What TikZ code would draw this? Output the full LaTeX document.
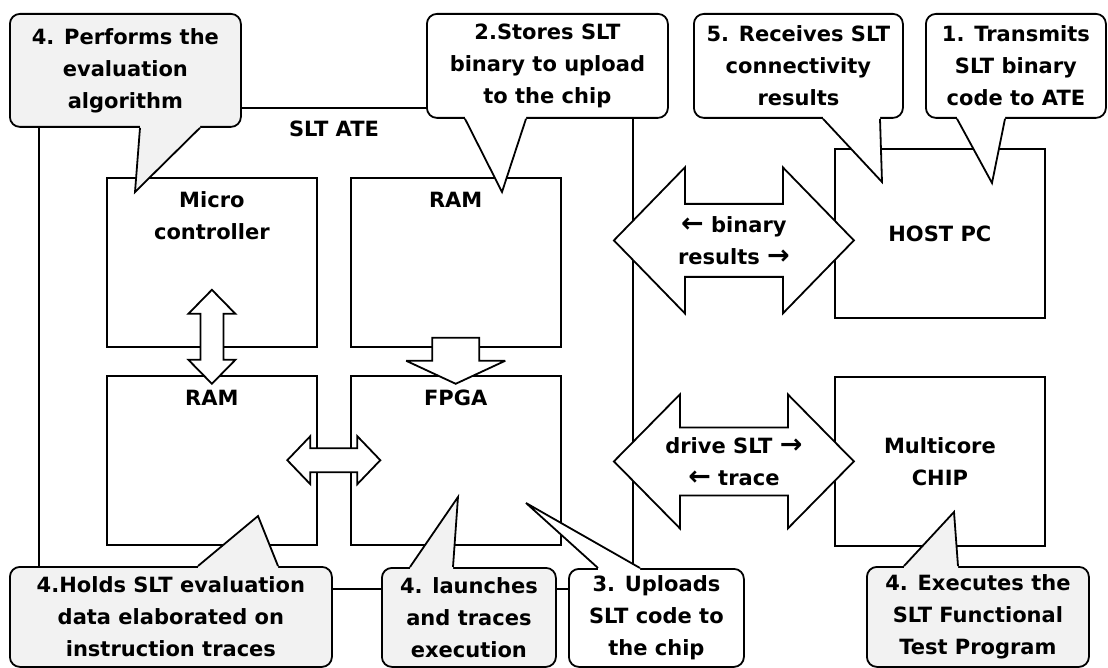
\documentclass[tikz,border=0pt]{standalone}
\usepackage{fontspec}
\setmainfont{DejaVu Sans}
\usetikzlibrary{positioning,calc}
\definecolor{notegray}{RGB}{242,242,242}

% pointer of a callout: corner, base x from, base x to, tip, inward dy, fill
\newcommand{\notetail}[6]{%
  \fill[#6] ($(#1)+(#2,#5)$) -- ($(#1)+(#2,0)$) -- (#4) -- ($(#1)+(#3,0)$) -- ($(#1)+(#3,#5)$) -- cycle;
  \draw ($(#1)+(#2,0)$) -- (#4) -- ($(#1)+(#3,0)$);}
% two-way block arrow: centre, rotation, half length, head length, half head, half shaft
\newcommand{\twoway}[6]{%
  \draw[blockarrow,shift={(#1)},rotate=#2] (-#3,0) -- ({-#3+#4},-#5) -- ({-#3+#4},-#6)
    -- ({#3-#4},-#6) -- ({#3-#4},-#5) -- (#3,0) -- ({#3-#4},#5) -- ({#3-#4},#6)
    -- ({-#3+#4},#6) -- ({-#3+#4},#5) -- cycle;}
\newcommand{\toleft}{{\fontsize{27}{32}\selectfont ←}}
\newcommand{\toright}{{\fontsize{27}{32}\selectfont →}}

\begin{document}
\begin{tikzpicture}[x=1pt,y=-1pt,line width=1.8pt,miter limit=4,
    font=\fontsize{21}{32}\selectfont\bfseries,
    box/.style={draw,fill=white,minimum width=210pt,minimum height=169pt,inner sep=0pt},
    lbl/.style={align=center,inner sep=0pt},
    blockarrow/.style={draw,fill=white},
    note/.style={draw,rounded corners=10pt,align=center,inner sep=0pt,anchor=north west},
    graynote/.style={note,fill=notegray},
    whitenote/.style={note,fill=white}]
  \useasboundingbox (0,0) rectangle (1108,668);

  % test equipment frame
  \node[draw,minimum width=594pt,minimum height=481pt,inner sep=0pt,anchor=north west] (ate) at (38,107) {};
  \node[lbl] (atetxt) at (334,129) {SLT ATE};

  % blocks
  \node[box,anchor=north west] (mcu) at (106,177) {};
  \node[box,right=32pt of mcu] (ramtop) {};
  \node[box,below=27pt of mcu] (ramlow) {};
  \node[box,right=32pt of ramlow] (fpga) {};
  \node[box,anchor=north west] (host) at (834,148) {};
  \node[box,anchor=north west] (chip) at (834,376) {};

  % block arrows
  \coordinate (mcuram) at ([yshift=11pt]mcu.south);
  \coordinate (ramlink) at ($(ramlow.east)!.5!(fpga.west)$);
  \coordinate (ramfpga) at ([yshift=-36pt]ramtop.south);
  \coordinate (hostlink) at ([yshift=-7pt]$(ate.east |- host.center)!.5!(host.west)$);
  \coordinate (chiplink) at ($(ate.east |- chip.center)!.5!(chip.west)$);
  \twoway{mcuram}{90}{47}{24}{23.5}{11.5}
  \twoway{ramlink}{0}{46.5}{23}{24}{12}
  \draw[blockarrow,shift={(ramfpga)}] (-23.5,-46) -- (23.5,-46) -- (23.5,-23) -- (49.5,-23)
    -- (0,0) -- (-49.5,-23) -- (-23.5,-23) -- cycle;
  \twoway{hostlink}{0}{120}{71}{73}{36.5}
  \twoway{chiplink}{0}{120}{66}{67}{34}

  % block texts
  \node[lbl,below=14pt of mcu.north] (mcutxt) {Micro\\controller};
  \node[lbl,below=14pt of ramtop.north] (ramtoptxt) {RAM};
  \node[lbl,below=14pt of ramlow.north] (ramlowtxt) {RAM};
  \node[lbl,below=14pt of fpga.north] (fpgatxt) {FPGA};
  \node[lbl] (hosttxt) at (host.center) {HOST PC};
  \node[lbl] (chiptxt) at (chip.center) {Multicore\\CHIP};
  \node[lbl] (hostlinktxt) at (hostlink) {\toleft{} binary\\results \toright};
  \node[lbl] (chiplinktxt) at (chiplink) {drive SLT \toright\\\toleft{} trace};

  % callouts, top row
  \node[graynote,minimum width=231pt,minimum height=113pt] (perf) at (9,13) {4. Performs the\\evaluation\\algorithm};
  \coordinate (perftip) at (135,192);
  \notetail{perf.south west}{131}{191}{perftip}{-3}{notegray}
  \node[whitenote,minimum width=241pt,minimum height=104pt] (stores) at (426,13) {2.Stores SLT\\binary to upload\\to the chip};
  \coordinate (storestip) at (502,192);
  \notetail{stores.south west}{39}{100}{storestip}{-3}{white}
  \node[whitenote,minimum width=209pt,minimum height=104pt] (receives) at (693,13) {5. Receives SLT\\connectivity\\results};
  \coordinate (receivestip) at (882,182);
  \notetail{receives.south west}{130}{187}{receivestip}{-3}{white}
  \node[whitenote,minimum width=180pt,minimum height=104pt] (transmits) at (925,13) {1. Transmits\\SLT binary\\code to ATE};
  \coordinate (transmitstip) at (992,183);
  \notetail{transmits.south west}{32}{80}{transmitstip}{-3}{white}

  % callouts, bottom row
  \node[graynote,minimum width=322pt,minimum height=100pt] (holds) at (9,566) {4.Holds SLT evaluation\\data elaborated on\\instruction traces};
  \coordinate (holdstip) at (258,516);
  \notetail{holds.north west}{189}{269}{holdstip}{3}{notegray}
  \node[graynote,minimum width=174pt,minimum height=99pt] (launches) at (381,567) {4. launches\\and traces\\execution};
  \coordinate (launchestip) at (458,497);
  \notetail{launches.north west}{29}{72}{launchestip}{3}{notegray}
  \node[whitenote,minimum width=175pt,minimum height=98pt] (uploads) at (568,568) {3. Uploads\\SLT code to\\the chip};
  \coordinate (uploadstip) at (526,503);
  \notetail{uploads.north west}{30}{72}{uploadstip}{3}{white}
  \node[graynote,minimum width=222pt,minimum height=100pt] (executes) at (866,566) {4. Executes the\\SLT Functional\\Test Program};
  \coordinate (executestip) at (954,512);
  \notetail{executes.north west}{38}{92}{executestip}{3}{notegray}
\end{tikzpicture}
\end{document}
